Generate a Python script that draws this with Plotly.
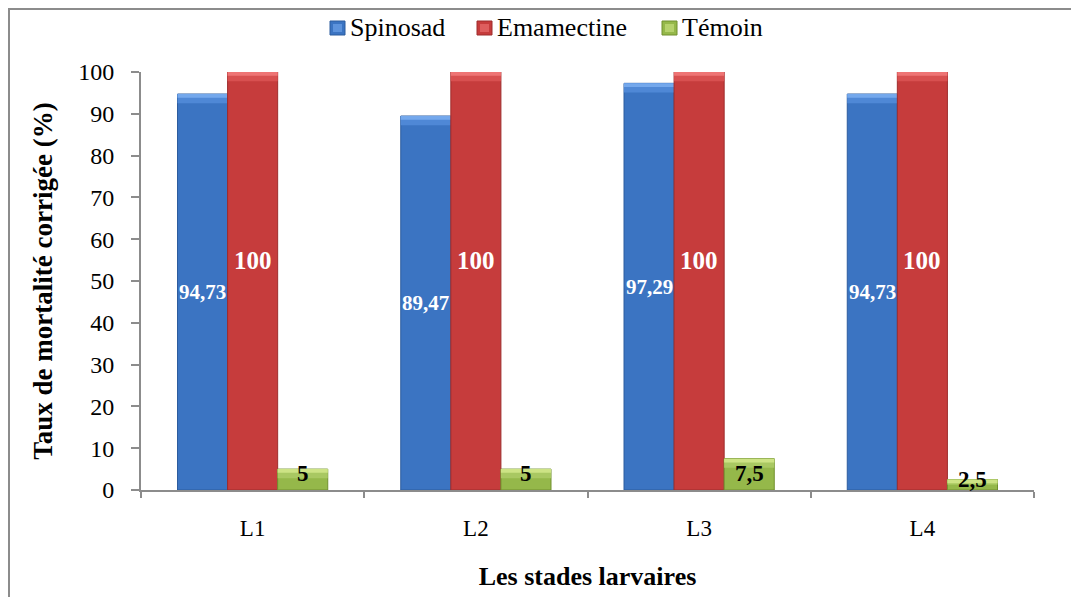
import plotly.graph_objects as go

categories = ["L1", "L2", "L3", "L4"]
spinosad = [94.73, 89.47, 97.29, 94.73]
emamectine = [100, 100, 100, 100]
temoin = [5, 5, 7.5, 2.5]

spinosad_labels = ["94,73", "89,47", "97,29", "94,73"]
emamectine_labels = ["100", "100", "100", "100"]
temoin_labels = ["5", "5", "7,5", "2,5"]

series_names = ["Spinosad", "Emamectine", "Témoin"]

FONT = "Liberation Serif"

colors = ["#3b74c2", "#c63c3c", "#95b84a"]
edges = ["#2d5c9e", "#9e2c2c", "#71902e"]
midtones = ["#4f88d6", "#d85050", "#a9c862"]
highlights = ["#74a8ec", "#ee7474", "#cde385"]
series_values = [spinosad, emamectine, temoin]

# page body has an 8px margin, so the figure is drawn 8px smaller and offset
OFF = 8
W, H = 1079 - OFF, 597 - OFF
L, R, T, B = 141 - OFF, 1034 - OFF, 72 - OFF, 490 - OFF
pw, ph = R - L, B - T

def px(x):
    return (x - OFF - L) / pw

def py(y):
    return (B - (y - OFF)) / ph

fig = go.Figure()
for i, name in enumerate(series_names):
    vals = series_values[i]
    fig.add_trace(go.Bar(
        x=categories, y=vals, name=name, offsetgroup=str(i),
        marker=dict(color=colors[i], line=dict(color=edges[i], width=1)),
        hoverinfo="skip", showlegend=False,
    ))
    # bevel effect on top of each bar (two lighter bands)
    for h, c in ((2.2, midtones[i]), (0.9, highlights[i])):
        hh = [min(h, v * 0.5) for v in vals]
        fig.add_trace(go.Bar(
            x=categories, y=hh, base=[v - d for v, d in zip(vals, hh)],
            offsetgroup=str(i), showlegend=False, width=None,
            marker=dict(color=c, line=dict(width=0)),
            hoverinfo="skip",
        ))

annotations = []
for j, cat in enumerate(categories):
    annotations.append(dict(x=j, y=spinosad[j] / 2, text="<b>%s</b>" % spinosad_labels[j],
                            xshift=-50, showarrow=False,
                            font=dict(family=FONT, size=21, color="white")))
    annotations.append(dict(x=j, y=emamectine[j] * 0.55, text="<b>%s</b>" % emamectine_labels[j],
                            xshift=0, showarrow=False,
                            font=dict(family=FONT, size=25, color="white")))
    annotations.append(dict(x=j, y=min(temoin[j], 4), text="<b>%s</b>" % temoin_labels[j],
                            xshift=50, showarrow=False,
                            font=dict(family=FONT, size=23, color="black")))

shapes = [dict(type="rect", xref="paper", yref="paper",
               x0=px(9), x1=px(1095), y0=py(620), y1=py(9),
               line=dict(color="#8c8c8c", width=2), layer="below")]

# legend (drawn manually so that it uses the serif font)
legend_x = [330, 477, 662]
legend_cy = 28
for i, name in enumerate(series_names):
    x0 = legend_x[i]
    shapes.append(dict(type="rect", xref="paper", yref="paper",
                       x0=px(x0), x1=px(x0 + 15), y0=py(legend_cy + 7), y1=py(legend_cy - 7),
                       fillcolor=colors[i], line=dict(color=edges[i], width=1)))
    shapes.append(dict(type="rect", xref="paper", yref="paper",
                       x0=px(x0 + 3), x1=px(x0 + 12), y0=py(legend_cy + 4), y1=py(legend_cy - 4),
                       fillcolor=highlights[i], line=dict(width=0), opacity=0.6))
    annotations.append(dict(xref="paper", yref="paper", x=px(x0 + 18), y=py(legend_cy),
                            xanchor="left", yanchor="middle", text=name, showarrow=False,
                            font=dict(family=FONT, size=26, color="black")))

fig.update_layout(
    width=W, height=H,
    margin=dict(l=L, r=W - R, t=T, b=H - B),
    paper_bgcolor="white", plot_bgcolor="white",
    barmode="group", bargap=0.327, bargroupgap=0,
    font=dict(family=FONT, size=20, color="black"),
    showlegend=False,
    annotations=annotations,
    shapes=shapes,
    xaxis=dict(
        showline=True, linecolor="#8c8c8c", linewidth=2,
        ticks="outside", tickson="boundaries", ticklen=6, tickcolor="#8c8c8c", tickwidth=2,
        tickfont=dict(family=FONT, size=23, color="black"),
        ticklabelstandoff=16,
        title=dict(text="<b>Les stades larvaires</b>", font=dict(family=FONT, size=26, color="black"),
                   standoff=27),
        automargin=False, showgrid=False,
    ),
    yaxis=dict(
        range=[0, 100], dtick=10, tick0=0,
        showline=True, linecolor="#8c8c8c", linewidth=2,
        ticks="outside", ticklen=8, tickcolor="#8c8c8c", tickwidth=2,
        tickfont=dict(family=FONT, size=24, color="black"),
        ticklabelstandoff=12,
        title=dict(text="<b>Taux de mortalité corrigée (%)</b>", font=dict(family=FONT, size=27, color="black"),
                   standoff=18),
        automargin=False, showgrid=False, zeroline=False,
    ),
)

fig.write_html("out.html")
